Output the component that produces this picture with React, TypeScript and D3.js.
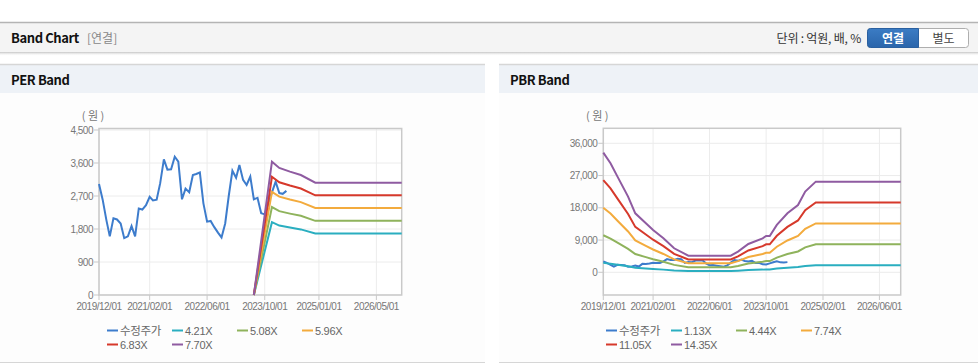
import React from "react";
import * as d3 from "d3";

// 수정주가 (monthly)
const priceMonths = [
  "2019-12", "2020-01", "2020-02", "2020-03", "2020-04", "2020-05", "2020-06", "2020-07",
  "2020-08", "2020-09", "2020-10", "2020-11", "2020-12", "2021-01", "2021-02", "2021-03",
  "2021-04", "2021-05", "2021-06", "2021-07", "2021-08", "2021-09", "2021-10", "2021-11",
  "2021-12", "2022-01", "2022-02", "2022-03", "2022-04", "2022-05", "2022-06", "2022-07",
  "2022-08", "2022-09", "2022-10", "2022-11", "2022-12", "2023-01", "2023-02", "2023-03",
  "2023-04", "2023-05", "2023-06", "2023-07", "2023-08", "2023-09", "2023-10", "2023-11",
  "2023-12", "2024-01", "2024-02", "2024-03", "2024-04",
];
const priceValues = [
  3030, 2600, 2050, 1600, 2090, 2060, 1950, 1550,
  1600, 1880, 1600, 2360, 2330, 2450, 2680, 2580,
  2600, 3050, 3700, 3420, 3430, 3770, 3640, 2610,
  2900, 2800, 3270, 3300, 3340, 2500, 2000, 2020,
  1850, 1700, 1570, 1950, 2700, 3390, 3200, 3545,
  3140, 3000, 3230, 2610, 2650, 2230, 2200, 2500,
  2800, 3090, 2780, 2760, 2840,
];

// PER band base (EPS)
const epsMonths = ["2023-07", "2023-12", "2024-02", "2024-05", "2024-08", "2024-12", "2026-12"];
const epsValues = [0, 472, 450, 437, 425, 398, 398];
const perMultiples = [4.21, 5.08, 5.96, 6.83, 7.7];
const perLabels = ["4.21X", "5.08X", "5.96X", "6.83X", "7.70X"];
const perYTicks = [0, 900, 1800, 2700, 3600, 4500];
const perXTicks = ["2019-12", "2021-02", "2022-06", "2023-10", "2025-01", "2026-05"];

// PBR band base (BPS)
const bpsMonths = [
  "2019-12", "2020-02", "2020-04", "2020-07", "2020-09", "2020-12", "2021-02", "2021-05",
  "2021-08", "2021-12", "2022-12", "2023-02", "2023-05", "2023-09", "2023-10", "2023-11",
  "2024-01", "2024-04", "2024-07", "2024-09", "2024-12", "2026-12",
];
const bpsValues = [
  2327, 2120, 1861, 1472, 1147, 953, 823, 661,
  467, 324, 324, 402, 551, 661, 707, 707,
  921, 1147, 1309, 1569, 1763, 1763,
];
const pbrMultiples = [1.13, 4.44, 7.74, 11.05, 14.35];
const pbrLabels = ["1.13X", "4.44X", "7.74X", "11.05X", "14.35X"];
const pbrYTicks = [0, 9000, 18000, 27000, 36000];
const pbrXTicks = ["2019-12", "2021-02", "2022-06", "2023-10", "2025-02", "2026-06"];

const xStart = "2019-12";
const xEnd = "2026-12";

const priceColor = "#3d7ccc";
const bandColors = ["#2aaec0", "#8fb35c", "#f3ab3d", "#d6392b", "#8f5ba1"];

const parse = d3.timeParse("%Y-%m");
const fmtTick = d3.timeFormat("%Y/%m/%d");
const fmtNum = d3.format(",");

const FONT = "'Liberation Sans', Arial, 'Noto Sans CJK KR', sans-serif";
const KFONT = "'Noto Sans CJK KR', 'Liberation Sans', sans-serif";

type BandProps = {
  left: number;
  right: number;
  top: number;
  bottom: number;
  yDomain: [number, number];
  yRange: [number, number];
  yTicks: number[];
  xTicks: string[];
  baseMonths: string[];
  baseValues: number[];
  multiples: number[];
  labels: string[];
  legendX: number;
};

function BandChart(p: BandProps) {
  const x = d3.scaleTime().domain([parse(xStart)!, parse(xEnd)!]).range([p.left, p.right]);
  const y = d3.scaleLinear().domain(p.yDomain).range(p.yRange);
  const line = d3
    .line<[Date, number]>()
    .x((d) => x(d[0]))
    .y((d) => y(d[1]));

  const price: [Date, number][] = priceMonths.map((m, i) => [parse(m)!, priceValues[i]]);
  const bands = p.multiples.map((k) =>
    p.baseMonths.map((m, i) => [parse(m)!, p.baseValues[i] * k] as [Date, number])
  );

  const legend = [
    { name: "수정주가", color: priceColor, font: KFONT },
    ...p.labels.map((l, i) => ({ name: l, color: bandColors[i], font: FONT })),
  ];

  return (
    <g>
      <rect x={p.left} y={p.top} width={p.right - p.left} height={p.bottom - p.top} fill="#fff" />
      {/* grid */}
      {p.yTicks.map((t) => (
        <line key={"gy" + t} x1={p.left} x2={p.right} y1={y(t)} y2={y(t)} stroke="#ececec" />
      ))}
      {p.xTicks.map((t) => (
        <line key={"gx" + t} x1={x(parse(t)!)} x2={x(parse(t)!)} y1={p.top} y2={p.bottom} stroke="#ececec" />
      ))}
      {/* frame */}
      <rect
        x={p.left}
        y={p.top}
        width={p.right - p.left}
        height={p.bottom - p.top}
        fill="none"
        stroke="#c9c9c9"
        strokeWidth={1.5}
      />
      {/* y axis */}
      {p.yTicks.map((t) => (
        <g key={"ty" + t}>
          <line x1={p.left - 5} x2={p.left} y1={y(t)} y2={y(t)} stroke="#c9c9c9" />
          <text
            x={p.left - 6}
            y={y(t) + 3.5}
            textAnchor="end"
            fontSize={10}
            letterSpacing={-0.5}
            fill="#777"
            fontFamily={FONT}
          >
            {fmtNum(t)}
          </text>
        </g>
      ))}
      <text x={p.left - 6} y={120} textAnchor="middle" fontSize={11} fill="#777" fontFamily={KFONT}>
        ( 원 )
      </text>
      {/* x axis */}
      {p.xTicks.map((t) => (
        <g key={"tx" + t}>
          <line x1={x(parse(t)!)} x2={x(parse(t)!)} y1={p.bottom} y2={p.bottom + 5} stroke="#c9c9c9" />
          <text
            x={x(parse(t)!)}
            y={p.bottom + 15}
            textAnchor="middle"
            fontSize={10}
            letterSpacing={-0.5}
            fill="#777"
            fontFamily={FONT}
          >
            {fmtTick(parse(t)!)}
          </text>
        </g>
      ))}
      {/* series */}
      <path d={line(price) || ""} fill="none" stroke={priceColor} strokeWidth={2} />
      {bands.map((b, i) => (
        <path key={"b" + i} d={line(b) || ""} fill="none" stroke={bandColors[i]} strokeWidth={2} />
      ))}
      {/* legend */}
      {legend.map((l, i) => {
        const lx = p.legendX + (i % 4) * 65;
        const ly = 330.5 + Math.floor(i / 4) * 14;
        return (
          <g key={"l" + i}>
            <line x1={lx} x2={lx + 11} y1={ly} y2={ly} stroke={l.color} strokeWidth={2} />
            <text
              x={lx + 13}
              y={ly + 4}
              fontSize={l.font === KFONT ? 11.5 : 11}
              fill="#666"
              fontFamily={l.font}
              letterSpacing={-0.3}
            >
              {l.name}
            </text>
          </g>
        );
      })}
    </g>
  );
}

export default function App() {
  return (
    <svg
      width={978}
      height={364}
      style={{ position: "absolute", left: 0, top: 0, background: "#fff" }}
    >
      <defs>
        <linearGradient id="shadow" x1="0" y1="0" x2="0" y2="1">
          <stop offset="0" stopColor="#c4c4c4" />
          <stop offset="1" stopColor="#fff" stopOpacity={0} />
        </linearGradient>
        <linearGradient id="btn" x1="0" y1="0" x2="0" y2="1">
          <stop offset="0" stopColor="#3b7cc4" />
          <stop offset="1" stopColor="#2a65ab" />
        </linearGradient>
      </defs>

      {/* top header */}
      <rect x={0} y={23} width={978} height={29} fill="#f4f4f4" />
      <line x1={0} x2={978} y1={22.5} y2={22.5} stroke="#b4b4b4" strokeWidth={1.5} />
      <rect x={0} y={52} width={978} height={4} fill="url(#shadow)" />
      <text x={11} y={43} fontSize={13} fontWeight="bold" fill="#111" fontFamily={KFONT} letterSpacing={-0.4}>
        Band Chart
      </text>
      <text x={87} y={43} fontSize={12} fill="#888" fontFamily={KFONT}>
        [연결]
      </text>
      <text x={861} y={42.5} fontSize={12} fill="#333" textAnchor="end" fontFamily={KFONT} letterSpacing={-0.2}>
        단위 : 억원, 배, %
      </text>
      <rect x={867.5} y={28.5} width={101} height={19} rx={3} fill="#fff" stroke="#aeaeae" />
      <path d="M 870.5 28.5 H 918.5 V 47.5 H 870.5 A 3 3 0 0 1 867.5 44.5 V 31.5 A 3 3 0 0 1 870.5 28.5 Z" fill="url(#btn)" stroke="#2a60a0" />
      <text x={893} y={42.5} fontSize={12} fontWeight="bold" fill="#fff" textAnchor="middle" fontFamily={KFONT}>
        연결
      </text>
      <text x={943.5} y={42.5} fontSize={12} fill="#444" textAnchor="middle" fontFamily={KFONT}>
        별도
      </text>

      {/* panels */}
      {[
        { x: 0, w: 485, title: "PER Band" },
        { x: 499, w: 479, title: "PBR Band" },
      ].map((pn) => (
        <g key={pn.title}>
          <rect x={pn.x} y={64} width={pn.w} height={29} fill="#eef2f7" />
          <line x1={pn.x} x2={pn.x + pn.w} y1={64.5} y2={64.5} stroke="#d6d6d6" strokeWidth={1.5} />
          <rect x={pn.x} y={93} width={pn.w} height={269} fill="#fdfdfd" />
          <line x1={pn.x} x2={pn.x + pn.w} y1={362.5} y2={362.5} stroke="#d6d6d6" />
          <text x={pn.x + 11} y={85} fontSize={13} fontWeight="bold" fill="#111" fontFamily={KFONT} letterSpacing={-0.4}>
            {pn.title}
          </text>
        </g>
      ))}

      <BandChart
        left={99}
        right={401.7}
        top={128.5}
        bottom={295}
        yDomain={[0, 4500]}
        yRange={[295, 130]}
        yTicks={perYTicks}
        xTicks={perXTicks}
        baseMonths={epsMonths}
        baseValues={epsValues}
        multiples={perMultiples}
        labels={perLabels}
        legendX={107}
      />
      <BandChart
        left={603.3}
        right={900.7}
        top={128.3}
        bottom={295}
        yDomain={[0, 36000]}
        yRange={[272.3, 143.3]}
        yTicks={pbrYTicks}
        xTicks={pbrXTicks}
        baseMonths={bpsMonths}
        baseValues={bpsValues}
        multiples={pbrMultiples}
        labels={pbrLabels}
        legendX={606}
      />
    </svg>
  );
}
